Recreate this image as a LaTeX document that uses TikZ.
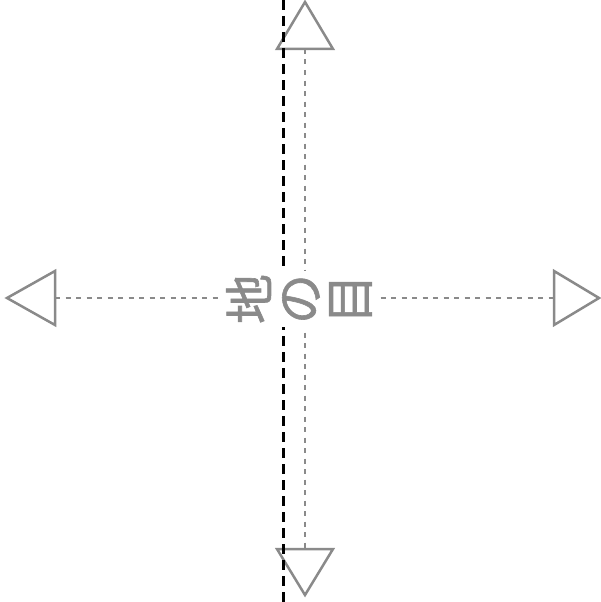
\documentclass[tikz,border=0pt]{standalone}
\usepackage{fontspec}
\newfontfamily\jpfont[BoldFont={Noto Sans CJK JP}, BoldFeatures={FakeBold=1.2}]{Noto Sans CJK JP}
\usepackage{xcolor}
\usetikzlibrary{positioning}
\definecolor{grain}{HTML}{8a8a8a}

\begin{document}
\begin{tikzpicture}[
  x=1pt, y=-1pt,
  guide/.style={draw=grain, line width=2.3pt, dash pattern=on 5pt off 5.5pt},
  fold/.style={draw=black, line width=3pt, dash pattern=on 10pt off 6pt},
  tip/.style={draw=grain, line width=2.5pt, line join=miter},
  lbl/.style={font=\jpfont\bfseries\fontsize{50}{50}\selectfont, text=grain, fill=white,
              align=center, inner sep=3pt, rotate=90},
]
  \useasboundingbox (0,0) rectangle (601,602);
  % ends of the guide lines
  \coordinate (top) at (305,49); \coordinate (bot) at (305,549);
  \coordinate (lft) at (55,298); \coordinate (rgt) at (554,298);
  \coordinate (f1) at (283,0); \coordinate (f2) at (283,602);
  \draw[guide](top)--(bot); \draw[guide](lft)--(rgt);
  % arrow heads
  \draw[tip](top)++(-28,0)--++(56,0)--(305,2)--cycle;
  \draw[tip](bot)++(-28,0)--++(56,0)--(305,595)--cycle;
  \draw[tip](lft)++(0,-27)--++(0,54)--(7,298)--cycle;
  \draw[tip](rgt)++(0,-27)--++(0,54)--(599,298)--cycle;
  % fold line
  \draw[fold](f1)--(f2);
  \node[lbl](grain) at (299,299){地\\の\\目};
\end{tikzpicture}
\end{document}
